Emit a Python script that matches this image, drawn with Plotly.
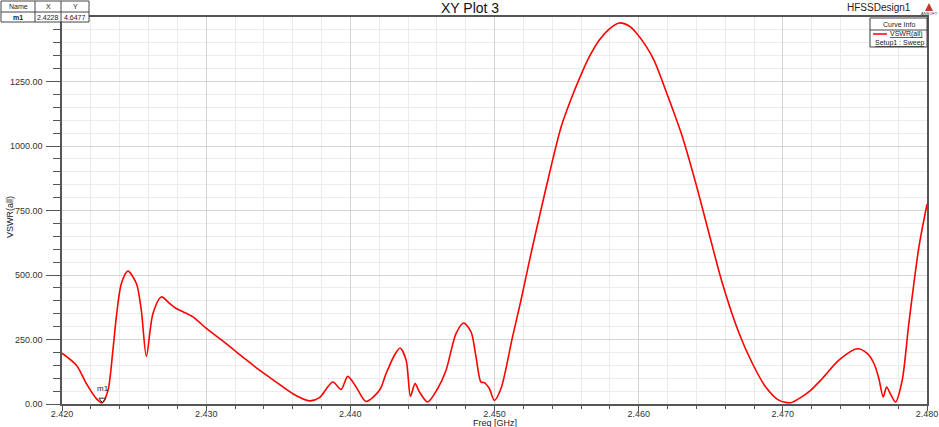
import plotly.graph_objects as go

# ---- data ----
freq_ghz = [2.4200, 2.4210, 2.42169, 2.42238, 2.4228, 2.42319, 2.42353, 2.42377, 2.42412, 2.42457,
            2.42516, 2.4255, 2.42585, 2.42631, 2.42689, 2.42746, 2.42793, 2.42908, 2.43001, 2.43139,
            2.43254, 2.4337, 2.43486, 2.43601, 2.43717, 2.43786, 2.43878, 2.43936, 2.43982, 2.4404,
            2.44109, 2.44202, 2.44248, 2.44306, 2.44345, 2.44387, 2.44417, 2.44449, 2.44479, 2.44536,
            2.44606, 2.44664, 2.44733, 2.44786, 2.44837, 2.44872, 2.44906, 2.44929, 2.44964, 2.44999,
            2.45045, 2.45125, 2.45184, 2.45248, 2.45322, 2.45403, 2.45461, 2.4553, 2.45588, 2.45657,
            2.45726, 2.45795, 2.45865, 2.45934, 2.45981, 2.4605, 2.46107, 2.46211, 2.46303,
            2.46396, 2.46488, 2.46581, 2.46697, 2.46789, 2.46881, 2.46974, 2.47055, 2.47112, 2.47193,
            2.47274, 2.47389, 2.47516, 2.47585, 2.47632, 2.47666, 2.47696, 2.4772, 2.47747, 2.47782,
            2.47828, 2.47874, 2.47944, 2.4800]
vswr = [197, 150, 79, 21, 4.65, 53, 208, 338, 467, 515,
        467, 364, 185, 351, 415, 390, 370, 338, 293, 234,
        182, 131, 85, 40, 12, 25, 85, 56, 107, 66,
        10, 53, 118, 189, 217, 170, 30, 79, 47, 8,
        60, 131, 273, 314, 280, 182, 85, 83, 60, 14,
        60, 260, 403, 570, 752, 945, 1072, 1180, 1260, 1345,
        1410, 1453, 1477, 1465, 1440, 1388, 1332, 1180, 1036,
        856, 661, 467, 273, 157, 66, 14, 5, 21, 53,
        99, 170, 214, 196, 157, 99, 27, 66, 38, 8,
        92, 312, 609, 775]

marker_name = "m1"
marker_x = 2.4228
marker_y = 4.6477

y_tick_vals = [0, 250, 500, 750, 1000, 1250]
y_tick_text = ["0.00", "250.00", "500.00", "750.00", "1000.00", "1250.00"]
x_tick_vals = [2.42, 2.43, 2.44, 2.45, 2.46, 2.47, 2.48]
x_tick_text = ["2.420", "2.430", "2.440", "2.450", "2.460", "2.470", "2.480"]

FONT = "Liberation Sans, Arial, sans-serif"
W, H = 939, 427
L, R, T, B = 62, 12, 17, 23
PW, PH = W - L - R, H - T - B


def px(x):
    return (x - L) / PW


def py(y):
    return (H - B - y) / PH


def note(x, y, text, size, xanchor="center", color="#222222", **kw):
    return dict(x=px(x), y=py(y), xref="paper", yref="paper", text=text, showarrow=False,
                xanchor=xanchor, yanchor="middle", font=dict(family=FONT, size=size, color=color), **kw)


fig = go.Figure()
fig.add_trace(go.Scatter(
    x=freq_ghz, y=vswr, mode="lines",
    line=dict(color="#ff0000", width=1.6, shape="spline", smoothing=0.8),
    showlegend=False, hoverinfo="x+y"))

fig.add_trace(go.Scatter(
    x=[marker_x], y=[marker_y + 12], mode="markers",
    marker=dict(symbol="triangle-down-open", size=6, color="#333333", line=dict(width=1)),
    showlegend=False))

shapes = []
annotations = []

# marker label
annotations.append(dict(x=marker_x, y=marker_y, xref="x", yref="y", text="m1", showarrow=False,
                        xanchor="center", yanchor="middle",
                        yshift=14, xshift=1, font=dict(family=FONT, size=8, color="#222222")))

# title and design name
annotations.append(note(470, 8, "XY Plot 3", 14, color="#111111"))
annotations.append(note(913, 8, "HFSSDesign1", 10, xanchor="right"))
# small logo
shapes.append(dict(type="path", xref="paper", yref="paper",
                   path=f"M {px(925)} {py(11)} L {px(929)} {py(3)} L {px(933)} {py(11)} Z",
                   fillcolor="#c0392b", line=dict(width=0)))
annotations.append(note(929, 13.5, "ANSOFT", 4, color="#333333"))

# axis titles
annotations.append(note(495, 422.5, "Freq [GHz]", 9))
annotations.append(note(10, 217, "VSWR(all)", 9, textangle=-90))

# marker table (top left)
tbl_x0, tbl_x1, tbl_y0, tbl_y1 = 1, 89, 1, 22
shapes.append(dict(type="rect", xref="paper", yref="paper", x0=px(tbl_x0), x1=px(tbl_x1),
                   y0=py(tbl_y1), y1=py(tbl_y0), line=dict(color="#444444", width=1), fillcolor="white"))
for cx in (35, 61):
    shapes.append(dict(type="line", xref="paper", yref="paper", x0=px(cx), x1=px(cx),
                       y0=py(tbl_y1), y1=py(tbl_y0), line=dict(color="#444444", width=1)))
shapes.append(dict(type="line", xref="paper", yref="paper", x0=px(tbl_x0), x1=px(tbl_x1),
                   y0=py(12), y1=py(12), line=dict(color="#444444", width=1)))
for cx, txt, cy in [(18, "Name", 6.5), (48, "X", 6.5), (75, "Y", 6.5),
                    (18, "<b>m1</b>", 17), (48, "2.4228", 17), (75, "4.6477", 17)]:
    annotations.append(note(cx, cy, txt, 7))

# curve info box (top right)
shapes.append(dict(type="rect", xref="paper", yref="paper", x0=px(870), x1=px(927),
                   y0=py(47), y1=py(18), line=dict(color="#444444", width=1), fillcolor="white"))
shapes.append(dict(type="line", xref="paper", yref="paper", x0=px(870), x1=px(927),
                   y0=py(30), y1=py(30), line=dict(color="#444444", width=1)))
shapes.append(dict(type="line", xref="paper", yref="paper", x0=px(873), x1=px(887),
                   y0=py(34), y1=py(34), line=dict(color="#ff0000", width=1.5)))
annotations.append(note(898.5, 24, "Curve Info", 7))
annotations.append(note(925, 34, "<u>VSWR(all)</u>", 7, xanchor="right"))
annotations.append(note(873, 42.5, "<u>Setup1 : Sweep</u>", 7, xanchor="left"))

fig.update_layout(
    width=W, height=H,
    margin=dict(l=L, r=R, t=T, b=B, pad=0, autoexpand=False),
    paper_bgcolor="white", plot_bgcolor="white",
    shapes=shapes, annotations=annotations,
    xaxis=dict(range=[2.42, 2.48], tickvals=x_tick_vals, ticktext=x_tick_text, automargin=False,
               showline=True, mirror=True, linecolor="#555555", linewidth=1.5,
               ticks="outside", ticklen=5, tickcolor="#555555", tickwidth=1,
               showgrid=True, gridcolor="#d4d4d4", gridwidth=1, zeroline=False,
               ticklabeloverflow="allow", ticklabelstandoff=-5,
               tickfont=dict(family=FONT, size=9, color="#333333"),
               minor=dict(dtick=0.002, tick0=2.42, ticks="outside", ticklen=3, tickcolor="#555555",
                          showgrid=True, gridcolor="#ececec", gridwidth=1)),
    yaxis=dict(range=[0, 1500], tickvals=y_tick_vals, ticktext=y_tick_text, automargin=False,
               showline=True, mirror=True, linecolor="#555555", linewidth=1.5,
               ticks="outside", ticklen=14, tickcolor="#555555", tickwidth=1,
               showgrid=True, gridcolor="#d4d4d4", gridwidth=1, zeroline=False,
               tickfont=dict(family=FONT, size=9, color="#333333"), ticklabelstandoff=2,
               minor=dict(dtick=50, tick0=0, ticks="outside", ticklen=7, tickcolor="#555555",
                          showgrid=True, gridcolor="#ececec", gridwidth=1)),
)

fig.write_html("out.html", config={"displayModeBar": False},
               post_script="document.body.style.margin='0';document.body.style.overflow='hidden';")
